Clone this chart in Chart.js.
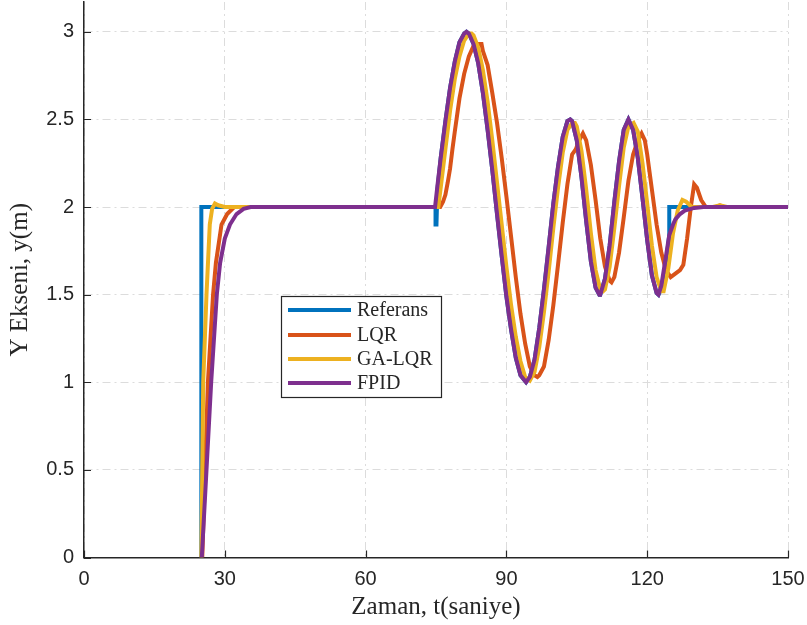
<!DOCTYPE html>
<html>
<head>
<meta charset="utf-8">
<script src="https://cdn.jsdelivr.net/npm/chart.js@4.4.0/dist/chart.umd.min.js"></script>
<style>
  html, body { margin: 0; padding: 0; background: #fff; }
  canvas { display: block; }
</style>
</head>
<body>
<canvas id="yChart" width="807" height="625"></canvas>
<script>
// series names / colours (MATLAB default order)
const seriesNames = ['Referans', 'LQR', 'GA-LQR', 'FPID'];
const seriesColors = ['#0072BD', '#D95319', '#EDB120', '#7E2F8E'];
const xTicks = [0, 30, 60, 90, 120, 150];
const yTicks = [0, 0.5, 1, 1.5, 2, 2.5, 3];

// [t (s), y (m)]
const referans = [
  [25, 0], [25, 2], [74.9, 2], [74.9, 1.9], [75.1, 1.9], [75.3, 2.1], [76, 2.28], [77, 2.49],
  [78, 2.68], [79, 2.83], [80, 2.94], [81, 2.99], [81.5, 3.0], [82, 2.99], [83, 2.93], [84, 2.82],
  [85, 2.65], [86, 2.44], [87, 2.21], [88, 1.96], [89, 1.72], [90, 1.49], [91, 1.30], [92, 1.14],
  [93, 1.04], [94.2, 1.0], [95, 1.03], [96, 1.13], [97, 1.31], [98, 1.53], [99, 1.77], [100, 2.02],
  [101, 2.23], [102, 2.40], [103, 2.49], [103.6, 2.5], [104, 2.49], [105, 2.38], [106, 2.17],
  [107, 1.92], [108, 1.69], [109, 1.54], [109.8, 1.5], [110, 1.5], [111, 1.59], [112, 1.78],
  [113, 2.03], [114, 2.26], [115, 2.44], [116, 2.5], [117, 2.44], [118, 2.28], [119, 2.05],
  [120, 1.81], [121, 1.61], [122, 1.51], [122.4, 1.5], [123, 1.53], [124, 1.68], [124.7, 1.84],
  [124.7, 2.0], [150, 2.0]
];
const lqr = [
  [25.2, 0], [25.8, 0.5], [26.4, 1.0], [27.5, 1.5], [28.1, 1.68], [29.3, 1.9], [30.5, 1.96], [32, 2.0],
  [75.9, 2.0], [76.5, 2.03], [77, 2.07], [77.5, 2.14], [78, 2.22], [78.5, 2.33], [79, 2.43], [80, 2.62],
  [81, 2.76], [82, 2.86], [83, 2.92], [84, 2.93], [84.7, 2.93], [85, 2.89], [86, 2.81], [87, 2.65],
  [88, 2.48], [89, 2.28], [90, 2.06], [91, 1.83], [92, 1.60], [93, 1.39], [94, 1.22], [95, 1.09],
  [96, 1.04], [96.6, 1.03], [97, 1.04], [98, 1.09], [99, 1.24], [100, 1.44], [101, 1.67], [102, 1.91],
  [103, 2.13], [104, 2.30], [104.8, 2.33], [105.5, 2.38], [106.3, 2.42], [107, 2.38], [108, 2.24],
  [109, 2.04], [110, 1.82], [111, 1.66], [112, 1.58], [112.4, 1.57], [113, 1.60], [114, 1.74],
  [115, 1.94], [116, 2.15], [117, 2.30], [118, 2.38], [118.8, 2.42], [119.5, 2.38], [120, 2.30],
  [121, 2.10], [122, 1.90], [123, 1.74], [124, 1.64], [125, 1.60], [126, 1.62], [127, 1.64],
  [127.7, 1.67], [128.5, 1.82], [129.3, 2.0], [130, 2.13], [130.6, 2.11], [131.5, 2.04], [132.5, 2.0],
  [134.5, 2.0], [135.5, 2.01], [136.5, 2.0], [150, 2.0]
];
const gaLqr = [
  [25, 0], [25.4, 1.0], [26.1, 1.5], [26.8, 1.9], [27.3, 1.99], [27.9, 2.02], [28.6, 2.01], [30, 2.0],
  [75.5, 2.0], [76.5, 2.22], [77, 2.33], [78, 2.55], [79, 2.73], [80, 2.86], [81, 2.95], [82, 2.99],
  [82.6, 2.99], [83, 2.98], [84, 2.91], [85, 2.78], [86, 2.60], [87, 2.38], [88, 2.14], [89, 1.90],
  [90, 1.66], [91, 1.44], [92, 1.26], [93, 1.12], [94, 1.03], [95, 1.01], [96, 1.06], [97, 1.20],
  [98, 1.40], [99, 1.63], [100, 1.88], [101, 2.11], [102, 2.31], [103, 2.44], [104, 2.48],
  [104.6, 2.48], [105, 2.46], [106, 2.32], [107, 2.10], [108, 1.85], [109, 1.64], [110, 1.53],
  [110.6, 1.52], [111, 1.53], [112, 1.66], [113, 1.88], [114, 2.12], [115, 2.34], [116, 2.46],
  [117.1, 2.48], [118, 2.43], [119, 2.25], [120, 2.02], [121, 1.78], [122, 1.60], [123, 1.52],
  [123.5, 1.52], [124.5, 1.65], [125.5, 1.85], [126.5, 1.98], [127.5, 2.04], [128.3, 2.03],
  [129.5, 2.0], [134, 2.0], [135.5, 2.01], [137, 2.0], [150, 2.0]
];
const fpid = [
  [25.1, 0], [26.1, 0.5], [27.1, 1.0], [28.3, 1.5], [29, 1.68], [30, 1.82], [31.1, 1.9], [32.5, 1.96],
  [34, 1.99], [35.5, 2.0], [74.8, 2.0], [75.3, 2.12], [76, 2.28], [77, 2.49], [78, 2.68], [79, 2.83],
  [80, 2.94], [81, 2.99], [81.5, 3.0], [82, 2.99], [83, 2.93], [84, 2.82], [85, 2.65], [86, 2.44],
  [87, 2.21], [88, 1.96], [89, 1.72], [90, 1.49], [91, 1.30], [92, 1.14], [93, 1.04], [94.2, 1.0],
  [95, 1.03], [96, 1.13], [97, 1.31], [98, 1.53], [99, 1.77], [100, 2.02], [101, 2.23], [102, 2.40],
  [103, 2.49], [103.6, 2.5], [104, 2.49], [105, 2.38], [106, 2.17], [107, 1.92], [108, 1.69],
  [109, 1.54], [109.8, 1.5], [110, 1.5], [111, 1.59], [112, 1.78], [113, 2.03], [114, 2.26],
  [115, 2.44], [116, 2.5], [117, 2.44], [118, 2.28], [119, 2.05], [120, 1.81], [121, 1.61],
  [122, 1.51], [122.4, 1.5], [123, 1.55], [124, 1.72], [124.7, 1.84], [125.5, 1.9], [126, 1.93],
  [127, 1.96], [128, 1.98], [130, 1.995], [132, 2.0], [150, 2.0]
];

const allSeries = [referans, lqr, gaLqr, fpid];

// ticks drawn inside the axes, like MATLAB
const innerTicks = {
  id: 'innerTicks',
  afterDatasetsDraw(chart) {
    const { ctx, chartArea: a, scales: { x, y } } = chart;
    ctx.save();
    ctx.strokeStyle = '#262626';
    ctx.lineWidth = 1.2;
    ctx.beginPath();
    x.ticks.forEach(t => {
      const px = Math.round(x.getPixelForValue(t.value)) + 0.5;
      ctx.moveTo(px, a.bottom); ctx.lineTo(px, a.bottom - 7);
    });
    y.ticks.forEach(t => {
      const py = Math.round(y.getPixelForValue(t.value)) + 0.5;
      ctx.moveTo(a.left, py); ctx.lineTo(a.left + 7, py);
    });
    ctx.stroke();
    ctx.restore();
  }
};

// boxed legend sitting inside the plot
const boxLegend = {
  id: 'boxLegend',
  afterDraw(chart) {
    const ctx = chart.ctx;
    const bx = 281, by = 296, bw = 160, bh = 101;
    const rows = [310, 335, 359, 383];
    ctx.save();
    ctx.fillStyle = '#fff';
    ctx.fillRect(bx, by, bw, bh);
    ctx.strokeStyle = '#262626';
    ctx.lineWidth = 1.2;
    ctx.strokeRect(bx + 0.5, by + 0.5, bw, bh);
    ctx.font = '20px "Liberation Serif"';
    ctx.textBaseline = 'middle';
    chart.data.datasets.forEach((ds, i) => {
      ctx.strokeStyle = ds.borderColor;
      ctx.lineWidth = 4;
      ctx.beginPath();
      ctx.moveTo(288, rows[i]); ctx.lineTo(351, rows[i]);
      ctx.stroke();
      ctx.fillStyle = '#262626';
      ctx.fillText(ds.label, 357, rows[i] + 1);
    });
    ctx.restore();
  }
};

const ctx = document.getElementById('yChart').getContext('2d');
const yChart = new Chart(ctx, {
  type: 'line',
  data: {
    datasets: seriesNames.map((name, i) => ({
      label: name,
      data: allSeries[i].map(p => ({ x: p[0], y: p[1] })),
      borderColor: seriesColors[i],
      backgroundColor: seriesColors[i],
      borderWidth: 4,
      pointRadius: 0,
      tension: 0,
      fill: false,
      order: seriesNames.length - i
    }))
  },
  options: {
    responsive: false,
    animation: false,
    devicePixelRatio: 1,
    layout: { padding: { left: 0, top: 2, right: 19, bottom: 0 } },
    plugins: { legend: { display: false }, tooltip: { enabled: false } },
    scales: {
      x: {
        type: 'linear',
        min: 0,
        max: 150,
        afterBuildTicks: s => { s.ticks = xTicks.map(v => ({ value: v })); },
        afterFit: s => { s.height = 67.5; s.paddingLeft = 0; s.paddingRight = 0; },
        grid: { color: '#dcdcdc', lineWidth: 1, drawTicks: false },
        border: { display: true, color: '#262626', width: 1.5, dash: [8, 4, 2, 4] },
        ticks: {
          padding: 10,
          color: '#262626',
          font: { family: '"Liberation Sans", Arial, sans-serif', size: 20 },
          maxRotation: 0,
          callback: v => String(v)
        },
        title: {
          display: true,
          text: 'Zaman, t(saniye)',
          color: '#262626',
          font: { family: '"Liberation Serif", serif', size: 25 },
          padding: { top: 0, bottom: 3 }
        }
      },
      y: {
        min: 0,
        max: 3.17,
        afterBuildTicks: s => { s.ticks = yTicks.map(v => ({ value: v })); },
        afterFit: s => { s.width = 84; s.paddingTop = 0; s.paddingBottom = 0; },
        grid: { color: '#dcdcdc', lineWidth: 1, drawTicks: false },
        border: { display: true, color: '#262626', width: 1.5, dash: [8, 4, 2, 4] },
        ticks: {
          padding: 10,
          color: '#262626',
          font: { family: '"Liberation Sans", Arial, sans-serif', size: 20 },
          callback: v => String(v)
        },
        title: {
          display: true,
          text: 'Y Ekseni, y(m)',
          color: '#262626',
          font: { family: '"Liberation Serif", serif', size: 25 },
          padding: { top: 5, bottom: 0 }
        }
      }
    }
  },
  plugins: [innerTicks, boxLegend]
});
</script>
</body>
</html>
